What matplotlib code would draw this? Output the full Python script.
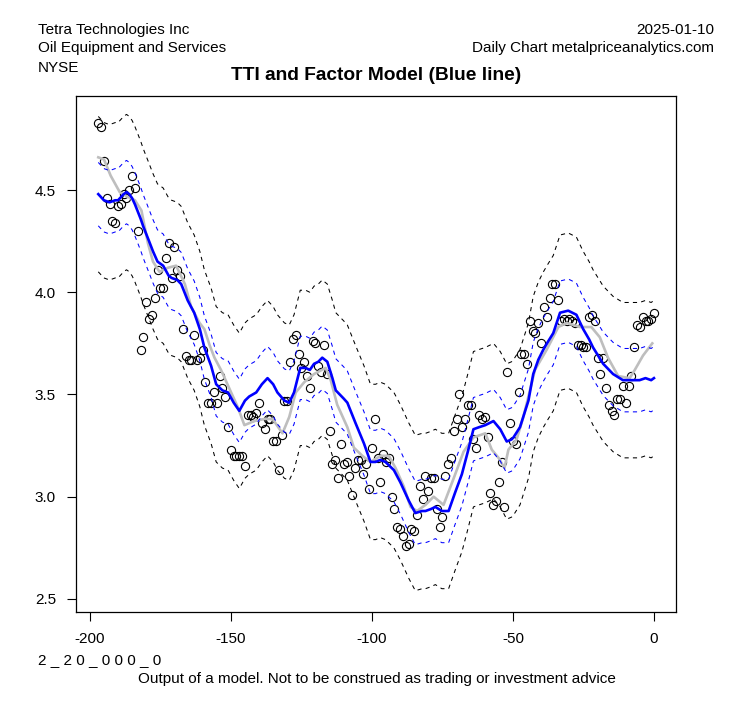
import numpy as np
import matplotlib
matplotlib.use('Agg')
import matplotlib.pyplot as plt

plt.rcParams['font.family'] = ['Liberation Sans', 'DejaVu Sans']

# daily closes, day -197 .. 0
days = np.arange(-197, 1)
price = [
    4.83, 4.81, 4.64, 4.46, 4.43, 4.35, 4.34, 4.42, 4.43, 4.48,
    4.46, 4.50, 4.57, 4.51, 4.30, 3.72, 3.78, 3.95, 3.87, 3.89,
    3.97, 4.11, 4.02, 4.02, 4.17, 4.24, 4.07, 4.22, 4.11, 4.08,
    3.82, 3.69, 3.67, 3.67, 3.79, 3.67, 3.68, 3.72, 3.56, 3.46,
    3.46, 3.51, 3.46, 3.59, 3.53, 3.49, 3.34, 3.23, 3.20, 3.20,
    3.20, 3.20, 3.15, 3.40, 3.40, 3.39, 3.41, 3.46, 3.36, 3.33,
    3.38, 3.38, 3.27, 3.27, 3.13, 3.30, 3.47, 3.47, 3.66, 3.77,
    3.79, 3.70, 3.63, 3.66, 3.59, 3.53, 3.76, 3.75, 3.64, 3.61,
    3.74, 3.60, 3.32, 3.16, 3.18, 3.09, 3.26, 3.16, 3.17, 3.10,
    3.01, 3.14, 3.18, 3.18, 3.11, 3.16, 3.04, 3.24, 3.38, 3.19,
    3.07, 3.21, 3.17, 3.19, 3.00, 2.94, 2.85, 2.84, 2.81, 2.76,
    2.77, 2.84, 2.83, 2.91, 3.05, 2.99, 3.10, 3.03, 3.09, 3.09,
    2.94, 2.85, 2.90, 3.10, 3.16, 3.19, 3.32, 3.38, 3.50, 3.34,
    3.38, 3.45, 3.45, 3.28, 3.24, 3.40, 3.38, 3.39, 3.29, 3.02,
    2.96, 2.98, 3.07, 3.17, 2.95, 3.61, 3.36, 3.27, 3.26, 3.51,
    3.70, 3.70, 3.65, 3.86, 3.81, 3.80, 3.85, 3.75, 3.93, 3.88,
    3.97, 4.04, 4.04, 3.96, 3.86, 3.87, 3.86, 3.87, 3.86, 3.85,
    3.74, 3.74, 3.73, 3.73, 3.88, 3.89, 3.86, 3.68, 3.60, 3.68,
    3.53, 3.45, 3.42, 3.40, 3.48, 3.48, 3.54, 3.46, 3.54, 3.59,
    3.73, 3.84, 3.83, 3.88, 3.86, 3.86, 3.87, 3.90,
]
assert len(price) == len(days)

# factor model (blue line)
model_x = [-197, -195, -193, -191, -190, -188, -187, -186, -185, -184,
           -182, -181, -179, -177.6, -176, -174, -172, -171, -169, -167.6,
           -165.3, -163, -161, -159.4, -157, -155.2, -153, -151, -149, -147,
           -145, -143.5, -141, -139, -137, -135, -133.5, -131, -129.3, -127.6,
           -125.4, -123.5, -122, -120.5, -119, -117.6, -115.8, -114, -112.8, -110,
           -108.7, -105.8, -102.8, -100.5, -98.7, -97, -95.2, -92.2, -89.9, -86.9,
           -84.6, -82.2, -81, -79, -77.5, -75.2, -72.8, -70.5, -68.1, -66,
           -64, -62, -59.8, -56.9, -54.5, -52.2, -50.5, -49.8, -47.5, -44.5,
           -42.8, -41, -39.2, -37.5, -35.7, -33.3, -30.4, -27.5, -25.1, -23,
           -21.6, -18, -14.5, -11, -7.4, -5.1, -3, -1, 0]
model_y = [4.48, 4.45, 4.44, 4.45, 4.45, 4.48, 4.49, 4.48, 4.46, 4.43,
           4.36, 4.32, 4.25, 4.20, 4.15, 4.13, 4.08, 4.07, 4.06, 4.04,
           3.96, 3.90, 3.82, 3.73, 3.64, 3.55, 3.52, 3.51, 3.46, 3.42,
           3.47, 3.49, 3.51, 3.55, 3.58, 3.55, 3.51, 3.47, 3.46, 3.51,
           3.63, 3.63, 3.62, 3.65, 3.66, 3.68, 3.66, 3.58, 3.52, 3.48,
           3.46, 3.36, 3.26, 3.17, 3.17, 3.18, 3.17, 3.13, 3.07, 2.98,
           2.92, 2.93, 2.93, 2.94, 2.95, 2.93, 2.93, 3.02, 3.11, 3.22,
           3.33, 3.34, 3.35, 3.37, 3.33, 3.27, 3.28, 3.29, 3.34, 3.47,
           3.60, 3.67, 3.72, 3.76, 3.80, 3.90, 3.91, 3.89, 3.82, 3.77,
           3.73, 3.65, 3.60, 3.57, 3.57, 3.57, 3.58, 3.57, 3.58]

# smoothed price (grey line)
smooth_x = [-197, -195, -192.6, -189.4, -187, -184, -181.7, -179.4, -177.6, -175.3,
            -172.3, -169.4, -166.3, -164.1, -161.1, -159.4, -157.5, -155.8, -153.5, -149.9,
            -147.6, -145.2, -141.7, -138.2, -135.2, -131.7, -129.3, -127, -124, -120.5,
            -116.4, -114.6, -112.3, -108.7, -106.4, -103.4, -100.5, -96.9, -94, -91.6,
            -88.7, -86.3, -84, -81, -78.1, -74.6, -71, -67.5, -64, -59.8,
            -57.5, -55.1, -53, -51.6, -48.7, -46.3, -42.2, -38, -33.9, -31,
            -26.3, -22.2, -19.2, -16.3, -12.7, -8.6, -6.8, -3.9, -0.6]
smooth_y = [4.66, 4.65, 4.57, 4.49, 4.47, 4.45, 4.40, 4.24, 4.15, 4.10,
            4.12, 4.13, 4.04, 3.93, 3.85, 3.82, 3.74, 3.68, 3.62, 3.51,
            3.44, 3.35, 3.37, 3.38, 3.38, 3.31, 3.39, 3.51, 3.56, 3.60,
            3.63, 3.57, 3.45, 3.34, 3.24, 3.20, 3.17, 3.20, 3.20, 3.14,
            3.05, 2.95, 2.93, 2.96, 3.00, 2.96, 3.09, 3.22, 3.29, 3.31,
            3.23, 3.19, 3.14, 3.23, 3.28, 3.39, 3.62, 3.72, 3.83, 3.85,
            3.83, 3.83, 3.78, 3.68, 3.59, 3.58, 3.62, 3.69, 3.75]

inner_band = 0.155
outer_band = 0.38

model_x = np.array(model_x)
model_y = np.array(model_y)

fig = plt.figure(figsize=(7.53, 7.08), dpi=100)
ax = fig.add_axes([0.101, 0.1356, 0.797, 0.7288])

ax.plot(days, price, 'o', mfc='none', mec='black', ms=5.9, mew=0.8, zorder=3)
ax.plot(smooth_x, smooth_y, color='#BEBEBE', lw=1.9, zorder=4)
dash = (0, (4, 4))
ax.plot(model_x, model_y + inner_band, color='blue', lw=0.75, ls=dash, zorder=4)
ax.plot(model_x, model_y - inner_band, color='blue', lw=0.75, ls=dash, zorder=4)
ax.plot(model_x, model_y + outer_band, color='black', lw=0.75, ls=dash, zorder=4)
ax.plot(model_x, model_y - outer_band, color='black', lw=0.75, ls=dash, zorder=4)
ax.plot(model_x, model_y, color='blue', lw=1.9, zorder=5)

ax.set_xlim(-204.88, 7.88)
ax.set_ylim(2.436, 4.96)
ax.set_xticks([-200, -150, -100, -50, 0])
ax.set_xticklabels(['-200', '-150', '-100', '-50', '0'])
ax.set_yticks([2.5, 3.0, 3.5, 4.0, 4.5])
ax.set_yticklabels(['2.5', '3.0', '3.5', '4.0', '4.5'])
ax.tick_params(direction='out', length=6.5, width=0.8, labelsize=11, pad=8)
for s in ax.spines.values():
    s.set_linewidth(0.9)

fig.text(0.4993, 0.893, 'TTI and Factor Model (Blue line)', fontsize=13.8,
         fontweight='bold', ha='center', va='center')

fig.text(0.05, 0.958, 'Tetra Technologies Inc', fontsize=11, va='center')
fig.text(0.05, 0.9315, 'Oil Equipment and Services', fontsize=11, va='center')
fig.text(0.05, 0.904, 'NYSE', fontsize=11, va='center')
fig.text(0.948, 0.958, '2025-01-10', fontsize=11, va='center', ha='right')
fig.text(0.948, 0.9315, 'Daily Chart metalpriceanalytics.com', fontsize=11, va='center', ha='right')
fig.text(0.05, 0.0675, '2 _ 2 0 _ 0 0 0 _ 0', fontsize=11, va='center')
fig.text(0.5, 0.041, 'Output of a model. Not to be construed as trading or investment advice',
         fontsize=11, va='center', ha='center')

fig.savefig('out.png', dpi=100)
